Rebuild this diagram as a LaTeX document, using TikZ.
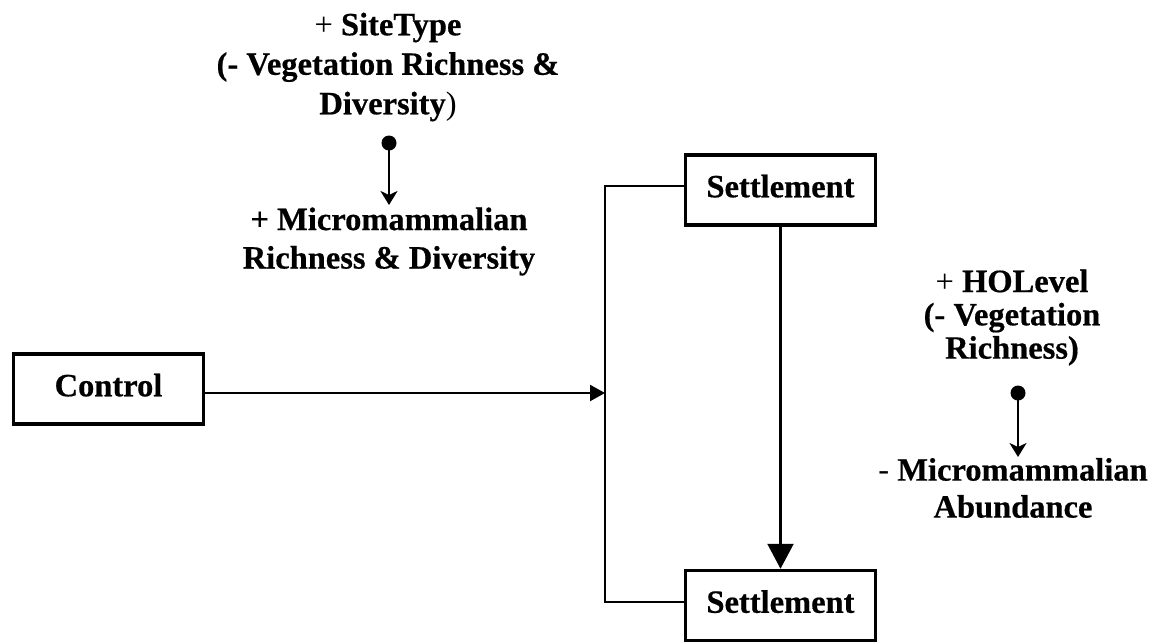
\documentclass[tikz,border=0pt]{standalone}
\usepackage{fontspec}
\setmainfont{Liberation Serif}[BoldFeatures={FakeBold=0.5}]
\usetikzlibrary{arrows.meta}
\begin{document}
\begin{tikzpicture}[x=1pt,y=-1pt,
  box/.style={draw, line width=3.5pt, minimum width=190pt, minimum height=70pt,
    inner sep=0pt, text depth=8pt, font=\fontsize{32.5}{38}\selectfont\bfseries},
  lab/.style={align=center, inner sep=0pt},
  conn/.style={line width=2.3pt},
  dotnode/.style={circle, fill=black, inner sep=0pt, minimum size=15pt},
  smallarrow/.style={conn, -{Stealth[length=14pt,width=17pt,inset=4pt]}}]
\useasboundingbox (0,0) rectangle (1156,641);
% boxes
\node[box] (ctrl) at (108.5,389) {Control};
\node[box] (s1) at (780.5,190) {Settlement};
\node[box] (s2) at (780.5,605.5) {Settlement};
% bracket
\coordinate (bt) at (605,186);
\coordinate (bm) at (605,393);
\coordinate (bb) at (605,602);
\draw[conn] (s1.west |- bt) -- (bt) -- (bb) -- (s2.west |- bb);
\draw[conn, -{Triangle[length=15pt,width=16pt]}] (ctrl.east |- bm) -- (bm);
\draw[conn, -{Triangle[length=25pt,width=26pt]}] (s1.south) -- (s2.north);
% top-left labels
\node[lab, font=\fontsize{32.5}{39.5}\selectfont\bfseries] (t1) at (388,67)
  {{\mdseries +} SiteType\\(- Vegetation Richness \&\\Diversity{\mdseries )}};
\node[dotnode] (d1) at (389,143) {};
\coordinate (e1) at (389,205);
\draw[smallarrow] (d1.center) -- (e1);
\node[lab, font=\fontsize{32.5}{38.5}\selectfont\bfseries] (t2) at (389,241.5)
  {+ Micromammalian\\Richness \& Diversity};
% right labels
\node[lab, font=\fontsize{32.5}{33.3}\selectfont\bfseries] (t3) at (1012,317.5)
  {{\mdseries +} HOLevel\\(- Vegetation\\Richness)};
\node[dotnode] (d2) at (1018,393) {};
\coordinate (e2) at (1018,457);
\draw[smallarrow] (d2.center) -- (e2);
\node[lab, font=\fontsize{32.5}{37}\selectfont\bfseries] (t4) at (1013,488)
  {{\mdseries -} Micromammalian\\Abundance};
\end{tikzpicture}
\end{document}
